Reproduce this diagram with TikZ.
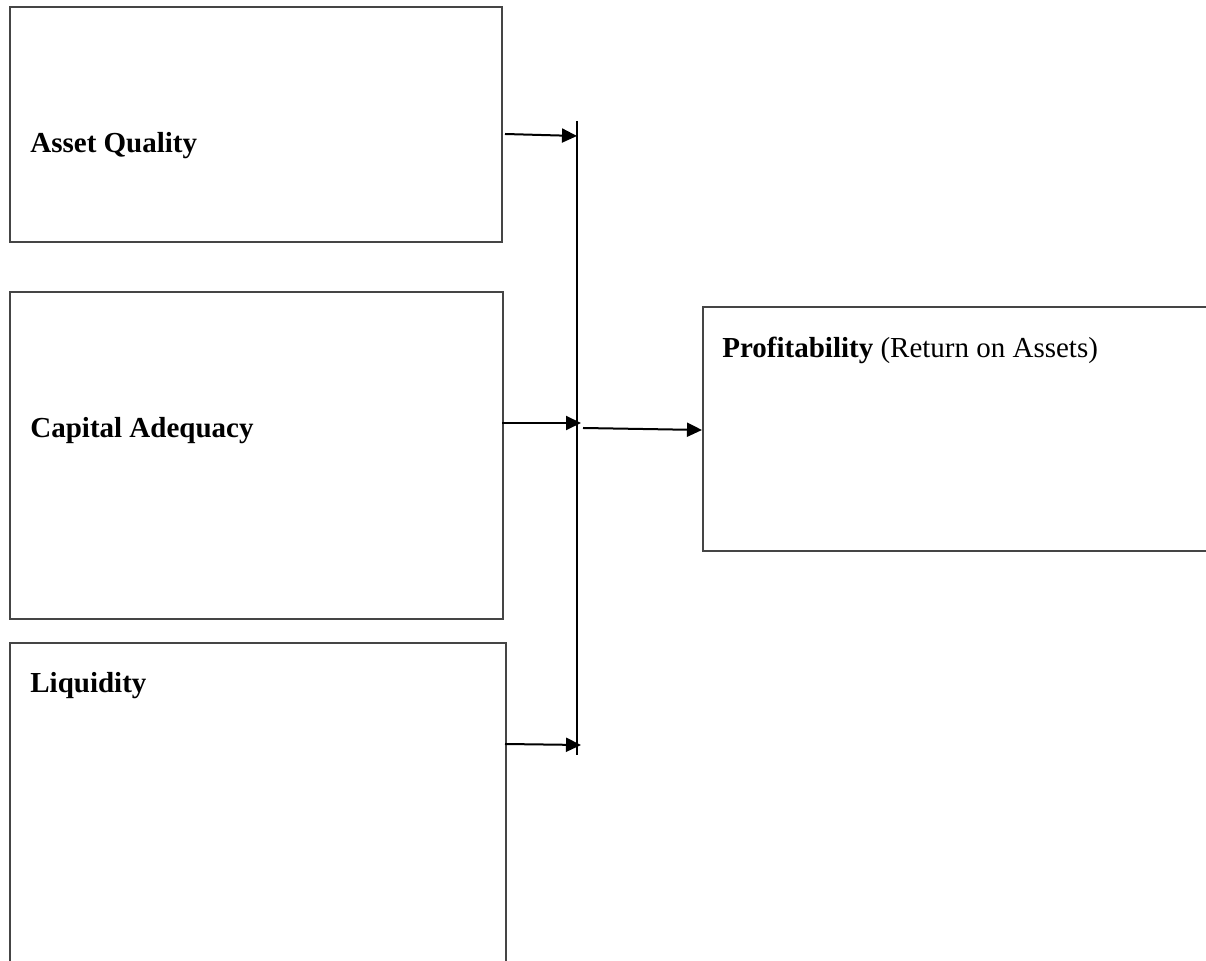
\documentclass[tikz,border=0pt]{standalone}
\usepackage{fontspec}
\setmainfont{Liberation Serif}
\usetikzlibrary{arrows.meta}
\definecolor{boxgray}{HTML}{454545}
\begin{document}
\begin{tikzpicture}[x=0.5pt,y=-0.5pt,
  box/.style={draw=boxgray, line width=1pt, inner sep=0pt, anchor=north west},
  lbl/.style={anchor=base west, inner sep=0pt, font=\fontsize{14.5}{17}\selectfont},
  conn/.style={draw=black, line width=1pt, -{Triangle[length=7.5pt,width=7pt]}},
  busline/.style={draw=black, line width=0.8pt}]
\useasboundingbox (0,0) rectangle (1206,961);
\clip (0,0) rectangle (1206,961);
% boxes
\node[box, minimum width=246pt, minimum height=117.5pt] (aq) at (9,6) {};
\node[box, minimum width=246.5pt, minimum height=163.5pt] (ca) at (9,291) {};
\node[box, minimum width=248pt, minimum height=175pt] (lq) at (9,642) {};
\node[box, minimum width=262pt, minimum height=122pt] (pr) at (702,306) {};
% labels
\node[lbl] (aqt) at (30,153) {\textbf{Asset Quality}};
\node[lbl] (cat) at (30,438) {\textbf{Capital Adequacy}};
\node[lbl] (lqt) at (30,693) {\textbf{Liquidity}};
\node[lbl] (prt) at (722,358) {\textbf{Profitability} (Return on Assets)};
% bus
\coordinate (bustop) at (577,121);
\coordinate (busbot) at (577,755);
\draw[busline] (bustop) -- (busbot);
% connector ends
\coordinate (a1s) at (505,134);
\coordinate (a1e) at (577,136);
\coordinate (a2s) at (502,423);
\coordinate (a2e) at (581,423);
\coordinate (a3s) at (583,428);
\coordinate (a3e) at (702,430);
\coordinate (a4s) at (505,744);
\coordinate (a4e) at (581,745);
\draw[conn] (a1s) -- (a1e);
\draw[conn] (a2s) -- (a2e);
\draw[conn] (a3s) -- (a3e);
\draw[conn] (a4s) -- (a4e);
\end{tikzpicture}
\end{document}
